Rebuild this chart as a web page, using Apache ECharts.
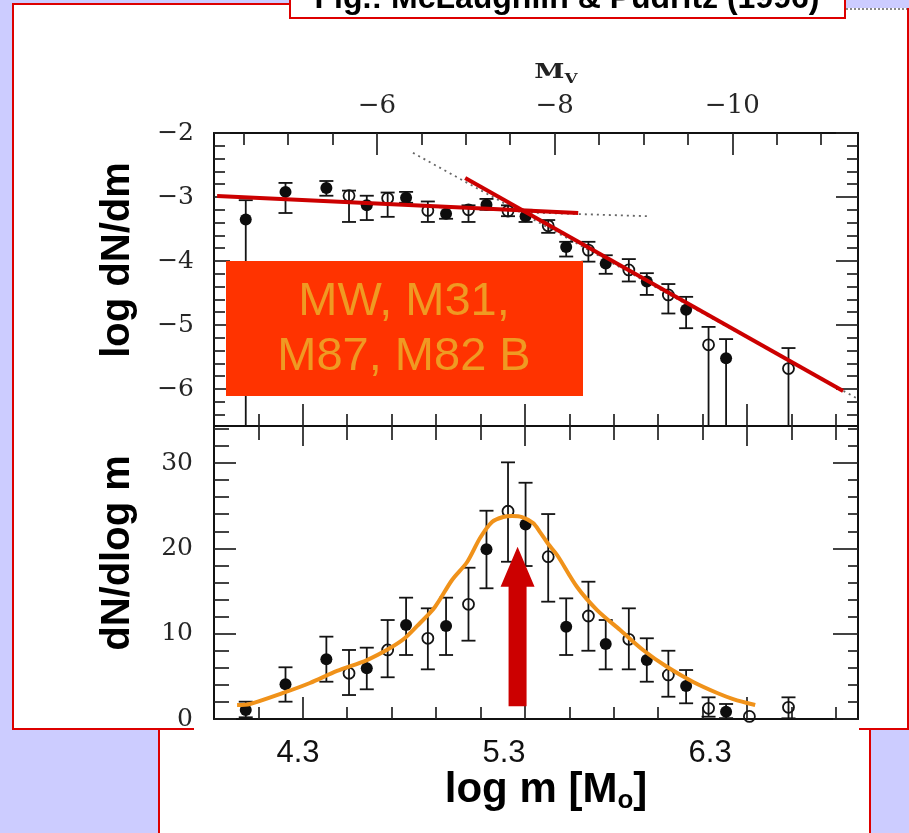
<!DOCTYPE html>
<html>
<head>
<meta charset="utf-8">
<title>Globular cluster mass function</title>
<script src="https://cdn.jsdelivr.net/npm/echarts@6/dist/echarts.min.js"></script>
<style>
  html, body { margin: 0; padding: 0; background: #ccccff; }
  #main { width: 909px; height: 833px; }
</style>
</head>
<body>
<div id="main"></div>
<script>
// ---- axis ranges (log m in solar masses, M_V follows m with constant M/L) ----
const logmRange = [3.9, 6.8];
const mvRange = [-11.415, -4.165];
const dndmRange = [-6.578, -2];
const countRange = [0, 34.34];
const slideMassRange = [3.892, 7.018];

// ---- tick positions ----
const logmMajorTicks = [4.3, 5.3, 6.3];
const logmMinorTicks = [4.1, 4.5, 4.7, 4.9, 5.1, 5.5, 5.7, 5.9, 6.1, 6.5, 6.7];
const mvMajorTicks = [-6, -8, -10];
const mvMinorTicks = [-4.5, -5, -5.5, -6.5, -7, -7.5, -8.5, -9, -9.5, -10.5, -11];
const dndmMajorTicks = [-6, -5, -4, -3, -2];
const dndmMinorTicks = [-6.4, -6.2, -5.8, -5.6, -5.4, -5.2, -4.8, -4.6, -4.4, -4.2,
                        -3.8, -3.6, -3.4, -3.2, -2.8, -2.6, -2.4, -2.2];
const countMajorTicks = [0, 10, 20, 30];
const countMinorTicks = [2, 4, 6, 8, 12, 14, 16, 18, 22, 24, 26, 28, 32, 34];
const slideMassLabels = [4.3, 5.3, 6.3];

// ---- binned cluster samples: filled and open symbols use offset bins ----
const logmFilled = [4.043, 4.222, 4.406, 4.588, 4.765, 4.945, 5.127, 5.303, 5.486, 5.664, 5.849, 6.026, 6.206];
const logmOpen   = [4.508, 4.682, 4.863, 5.046, 5.224, 5.405, 5.586, 5.768, 5.946, 6.127, 6.311, 6.487];

// log dN/dm (upper panel)
const dndmFilled   = [-3.35, -2.92, -2.86, -3.13, -3.01, -3.26, -3.12, -3.30, -3.78, -4.04, -4.32, -4.76, -5.52];
const dndmFilledHi = [-3.05, -2.78, -2.75, -2.98, -2.92, -3.16, -3.03, -3.20, -3.70, -3.91, -4.19, -4.56, -5.22];
const dndmFilledLo = [null, -3.25, -2.98, -3.36, -3.09, -3.34, -3.20, -3.39, -3.93, -4.20, -4.53, -5.05, null];
const dndmOpen   = [-2.98, -3.02, -3.21, -3.20, -3.22, -3.45, -3.83, -4.14, -4.53, -5.31, null, -5.68];
const dndmOpenHi = [-2.90, -2.93, -3.07, -3.13, -3.13, -3.36, -3.70, -3.97, -4.36, -5.03, null, -5.36];
const dndmOpenLo = [-3.39, -3.31, -3.39, -3.39, -3.30, -3.56, -4.01, -4.32, -4.82, null, null, null];

// dN/dlog m (lower panel)
const countFilled   = [1.05, 4.07, 7.00, 5.94, 11.02, 10.90, 19.89, 22.79, 10.82, 8.79, 6.91, 3.87, 0.86];
const countFilledHi = [2.03, 6.06, 9.65, 8.36, 14.22, 14.22, 24.41, 27.69, 14.14, 11.60, 9.46, 5.74, 1.76];
const countFilledLo = [0.20, 2.03, 4.37, 3.48, 7.50, 7.50, 15.32, 17.93, 7.50, 5.82, 4.37, 1.84, 0.10];
const countOpen   = [5.36, 8.09, 9.46, 13.44, 24.35, 19.02, 12.07, 9.34, 5.16, 1.25, 0.30, 1.37];
const countOpenHi = [8.09, 11.60, 12.97, 17.73, 30.08, 24.02, 16.09, 12.97, 8.00, 2.54, null, 2.54];
const countOpenLo = [2.81, 4.89, 5.82, 9.18, 18.43, 13.75, 8.00, 5.82, 2.61, 0.27, null, 0.08];

// power-law fits in the upper panel
const shallowFitLogm = [3.914, 5.54];
const shallowFitValue = [-2.984, -3.25];
const steepFitLogm = [5.031, 6.733];
const steepFitValue = [-2.703, -6.031];
const dottedSteepLogm = [4.796, 6.792];
const dottedSteepValue = [-2.31, -6.14];
const dottedFlatLogm = [5.30, 5.85];
const dottedFlatValue = [-3.24, -3.30];

// hand-drawn smooth profile through the lower panel
const curveLogm  = [4.004, 4.062, 4.211, 4.332, 4.454, 4.589, 4.693, 4.760, 4.828, 4.895,
                    4.972, 5.040, 5.098, 5.152, 5.202, 5.242, 5.287, 5.337, 5.368, 5.405,
                    5.445, 5.535, 5.625, 5.729, 5.832, 5.941, 6.058, 6.166, 6.238, 6.337];
const curveValue = [1.64, 1.76, 3.05, 4.22, 5.63, 6.91, 8.32, 9.49, 11.25, 13.13,
                    16.29, 18.40, 21.21, 23.09, 23.67, 23.79, 23.67, 22.97, 21.91, 20.51,
                    19.22, 15.47, 12.77, 10.43, 8.09, 6.09, 4.34, 3.05, 2.34, 1.64];

// turnover marker
const peakArrowLogm = [5.267];
const peakArrowFrom = [1.5];
const peakArrowTo = [20.2];

// ---------------------------------------------------------------------------
const zip = (xs, ys) => xs.map((x, i) => [x, ys[i]]);
const minus = v => (v < 0 ? '\u2212' + Math.abs(v) : String(v));

const INK = '#141414';
const SERIF = '"DejaVu Serif", "Liberation Serif", serif';
const SANS = '"Liberation Sans", Arial, sans-serif';

function tickAxis(base, ticks, len, showLine, label) {
  return Object.assign({
    type: 'value',
    splitLine: { show: false },
    axisLine: { show: showLine, onZero: false, lineStyle: { color: '#111', width: 2 } },
    axisTick: { show: true, inside: true, length: len, customValues: ticks,
                lineStyle: { color: '#222', width: 1.7 } },
    axisLabel: label || { show: false }
  }, base);
}

function serifLabels(values, margin, size) {
  return {
    show: true, customValues: values, formatter: minus, margin: margin,
    color: '#262626', fontFamily: SERIF, fontSize: size
  };
}

function errorBars(xIdx, yIdx, xs, lows, highs) {
  return {
    type: 'custom', xAxisIndex: xIdx, yAxisIndex: yIdx, silent: true, z: 3,
    data: xs.map((x, i) => [x, lows[i], highs[i]]),
    encode: { x: 0, y: [1, 2] },
    renderItem(params, api) {
      const x = api.value(0), lo = api.value(1), hi = api.value(2);
      if (isNaN(hi)) return null;
      const cs = params.coordSys;
      const top = api.coord([x, hi]);
      const openEnd = isNaN(lo);
      const yBottom = openEnd ? cs.y + cs.height : api.coord([x, lo])[1];
      const w = 7;
      const st = { stroke: INK, lineWidth: 1.8 };
      const kids = [
        { type: 'line', shape: { x1: top[0], y1: top[1], x2: top[0], y2: yBottom }, style: st },
        { type: 'line', shape: { x1: top[0] - w, y1: top[1], x2: top[0] + w, y2: top[1] }, style: st }
      ];
      if (!openEnd) {
        kids.push({ type: 'line', shape: { x1: top[0] - w, y1: yBottom, x2: top[0] + w, y2: yBottom }, style: st });
      }
      return { type: 'group', children: kids };
    }
  };
}

function points(xIdx, yIdx, xs, ys, filled) {
  return {
    type: 'scatter', xAxisIndex: xIdx, yAxisIndex: yIdx, z: 4, silent: true,
    data: zip(xs, ys), symbol: 'circle', symbolSize: filled ? 12 : 11,
    itemStyle: filled ? { color: '#0d0d0d', opacity: 1 }
                      : { color: 'rgba(0,0,0,0)', borderColor: INK, borderWidth: 1.8, opacity: 1 }
  };
}

function straight(xIdx, yIdx, xs, ys, style, z) {
  return {
    type: 'line', xAxisIndex: xIdx, yAxisIndex: yIdx, data: zip(xs, ys),
    symbol: 'none', silent: true, z: z, lineStyle: style
  };
}

const option = {
  backgroundColor: '#ccccff',
  animation: false,
  grid: [
    { left: 214, top: 133, width: 644, height: 293 },
    { left: 214, top: 426, width: 644, height: 293 }
  ],
  xAxis: [
    // upper panel: log m along the bottom edge
    tickAxis({ gridIndex: 0, position: 'bottom', min: logmRange[0], max: logmRange[1] }, logmMajorTicks, 22, true),
    tickAxis({ gridIndex: 0, position: 'bottom', min: logmRange[0], max: logmRange[1] }, logmMinorTicks, 12, false),
    // upper panel: M_V along the top edge
    tickAxis({ gridIndex: 0, position: 'top', inverse: true, min: mvRange[0], max: mvRange[1] }, mvMajorTicks, 22, true,
             serifLabels(mvMajorTicks, 14, 26)),
    tickAxis({ gridIndex: 0, position: 'top', inverse: true, min: mvRange[0], max: mvRange[1] }, mvMinorTicks, 12, false),
    // lower panel: log m along bottom and top edges
    tickAxis({ gridIndex: 1, position: 'bottom', min: logmRange[0], max: logmRange[1] }, logmMajorTicks, 22, true),
    tickAxis({ gridIndex: 1, position: 'bottom', min: logmRange[0], max: logmRange[1] }, logmMinorTicks, 12, false),
    tickAxis({ gridIndex: 1, position: 'top', min: logmRange[0], max: logmRange[1] }, logmMajorTicks, 20, true),
    tickAxis({ gridIndex: 1, position: 'top', min: logmRange[0], max: logmRange[1] }, logmMinorTicks, 14, false),
    // mass labels of the slide
    {
      type: 'value', gridIndex: 1, position: 'bottom', min: slideMassRange[0], max: slideMassRange[1],
      splitLine: { show: false }, axisLine: { show: false }, axisTick: { show: false },
      axisLabel: { show: true, customValues: slideMassLabels, formatter: v => v.toFixed(1),
                   margin: 19, color: '#111', fontFamily: SANS, fontSize: 31 }
    }
  ],
  yAxis: [
    tickAxis({ gridIndex: 0, position: 'left', min: dndmRange[0], max: dndmRange[1] }, dndmMajorTicks, 16, true,
             serifLabels(dndmMajorTicks, 20, 25)),
    tickAxis({ gridIndex: 0, position: 'left', min: dndmRange[0], max: dndmRange[1] }, dndmMinorTicks, 11, false),
    tickAxis({ gridIndex: 0, position: 'right', min: dndmRange[0], max: dndmRange[1] }, dndmMajorTicks, 22, true),
    tickAxis({ gridIndex: 0, position: 'right', min: dndmRange[0], max: dndmRange[1] }, dndmMinorTicks, 11, false),
    tickAxis({ gridIndex: 1, position: 'left', min: countRange[0], max: countRange[1] }, countMajorTicks, 22, true,
             serifLabels(countMajorTicks, 21, 25)),
    tickAxis({ gridIndex: 1, position: 'left', min: countRange[0], max: countRange[1] }, countMinorTicks, 15, false),
    tickAxis({ gridIndex: 1, position: 'right', min: countRange[0], max: countRange[1] }, countMajorTicks, 25, true),
    tickAxis({ gridIndex: 1, position: 'right', min: countRange[0], max: countRange[1] }, countMinorTicks, 10, false)
  ],
  series: [
    // upper panel
    straight(0, 0, dottedSteepLogm, dottedSteepValue, { color: '#666', width: 1.8, type: [2, 4] }, 2),
    straight(0, 0, dottedFlatLogm, dottedFlatValue, { color: '#666', width: 1.8, type: [2, 4] }, 2),
    errorBars(0, 0, logmFilled, dndmFilledLo, dndmFilledHi),
    errorBars(0, 0, logmOpen, dndmOpenLo, dndmOpenHi),
    points(0, 0, logmFilled, dndmFilled, true),
    points(0, 0, logmOpen, dndmOpen, false),
    straight(0, 0, shallowFitLogm, shallowFitValue, { color: '#cc0000', width: 4 }, 6),
    straight(0, 0, steepFitLogm, steepFitValue, { color: '#cc0000', width: 4 }, 6),
    // lower panel
    errorBars(4, 4, logmFilled, countFilledLo, countFilledHi),
    errorBars(4, 4, logmOpen, countOpenLo, countOpenHi),
    points(4, 4, logmFilled, countFilled, true),
    points(4, 4, logmOpen, countOpen, false),
    {
      type: 'line', xAxisIndex: 4, yAxisIndex: 4, data: zip(curveLogm, curveValue),
      smooth: 0.3, symbol: 'none', silent: true, z: 6,
      lineStyle: { color: '#f0921a', width: 4 }
    },
    {
      type: 'custom', xAxisIndex: 4, yAxisIndex: 4, silent: true, z: 7,
      data: peakArrowLogm.map((x, i) => [x, peakArrowFrom[i], peakArrowTo[i]]),
      encode: { x: 0, y: [1, 2] },
      renderItem(params, api) {
        const base = api.coord([api.value(0), api.value(1)]);
        const tip = api.coord([api.value(0), api.value(2)]);
        const cx = base[0], shaft = 9, head = 17, headLen = 40;
        return {
          type: 'polygon',
          shape: { points: [
            [cx - shaft, base[1]], [cx - shaft, tip[1] + headLen], [cx - head, tip[1] + headLen],
            [cx, tip[1]], [cx + head, tip[1] + headLen], [cx + shaft, tip[1] + headLen], [cx + shaft, base[1]]
          ] },
          style: { fill: '#cc0000' }
        };
      }
    }
  ],
  graphic: [
    // slide frames
    { type: 'rect', z: -10, shape: { x: 13, y: 4, width: 895, height: 725 },
      style: { fill: '#ffffff', stroke: '#dd0000', lineWidth: 2 } },
    { type: 'rect', z: -10, shape: { x: 159, y: 729, width: 711, height: 140 },
      style: { fill: '#ffffff', stroke: '#dd0000', lineWidth: 2 } },
    { type: 'rect', z: -9, shape: { x: 194, y: 721, width: 665, height: 16 },
      style: { fill: '#ffffff' } },
    { type: 'rect', z: -9, shape: { x: 846, y: 0, width: 63, height: 8 },
      style: { fill: '#ccccff' } },
    { type: 'line', z: -9, shape: { x1: 846, y1: 9, x2: 907, y2: 9 },
      style: { stroke: '#888', lineWidth: 2, lineDash: [2, 2] } },
    // title tab
    { type: 'rect', z: 50, shape: { x: 290, y: -30, width: 555, height: 48 },
      style: { fill: '#ffffff', stroke: '#dd0000', lineWidth: 2 } },
    { type: 'text', z: 51, x: 567, y: -1,
      style: { text: 'Fig.: McLaughlin & Pudritz (1996)', fill: '#000',
               fontSize: 32, fontWeight: 'bold', fontFamily: SANS,
               align: 'center', verticalAlign: 'middle', textAlign: 'center', textVerticalAlign: 'middle' } },
    // axis titles
    { type: 'text', z: 50, x: 556, y: 73, scaleX: 1.3,
      style: { text: '{m|M}{v|V}', fill: '#222',
               align: 'center', verticalAlign: 'middle', textAlign: 'center', textVerticalAlign: 'middle',
               rich: {
                 m: { fontFamily: SERIF, fontWeight: 'bold', fontSize: 21, lineHeight: 26 },
                 v: { fontFamily: SERIF, fontWeight: 'bold', fontSize: 13, lineHeight: 13, verticalAlign: 'bottom' }
               } } },
    { type: 'text', z: 50, x: 118, y: 260, rotation: Math.PI / 2,
      style: { text: 'log dN/dm', fill: '#000', fontSize: 40, fontWeight: 'bold', fontFamily: SANS,
               align: 'center', verticalAlign: 'middle', textAlign: 'center', textVerticalAlign: 'middle' } },
    { type: 'text', z: 50, x: 118, y: 553, rotation: Math.PI / 2,
      style: { text: 'dN/dlog m', fill: '#000', fontSize: 40, fontWeight: 'bold', fontFamily: SANS,
               align: 'center', verticalAlign: 'middle', textAlign: 'center', textVerticalAlign: 'middle' } },
    { type: 'text', z: 50, x: 546, y: 790,
      style: { text: 'log m [M{s|o}]', fill: '#000', fontSize: 42, fontWeight: 'bold', fontFamily: SANS,
               lineHeight: 48,
               align: 'center', verticalAlign: 'middle', textAlign: 'center', textVerticalAlign: 'middle',
               rich: { s: { fontSize: 26, fontWeight: 'bold', fontFamily: SANS, lineHeight: 26, verticalAlign: 'bottom' } } } },
    // sample annotation
    { type: 'rect', z: 100, shape: { x: 226, y: 261, width: 357, height: 135 },
      style: { fill: '#ff3300' } },
    { type: 'text', z: 101, x: 404, y: 302,
      style: { text: 'MW, M31,', fill: '#ef9a22', fontSize: 47, fontFamily: SANS,
               align: 'center', verticalAlign: 'middle', textAlign: 'center', textVerticalAlign: 'middle' } },
    { type: 'text', z: 101, x: 404, y: 357,
      style: { text: 'M87, M82 B', fill: '#ef9a22', fontSize: 47, fontFamily: SANS,
               align: 'center', verticalAlign: 'middle', textAlign: 'center', textVerticalAlign: 'middle' } }
  ]
};

const chart = echarts.init(document.getElementById('main'), null, { renderer: 'canvas', width: 909, height: 833 });
chart.setOption(option);
</script>
</body>
</html>
